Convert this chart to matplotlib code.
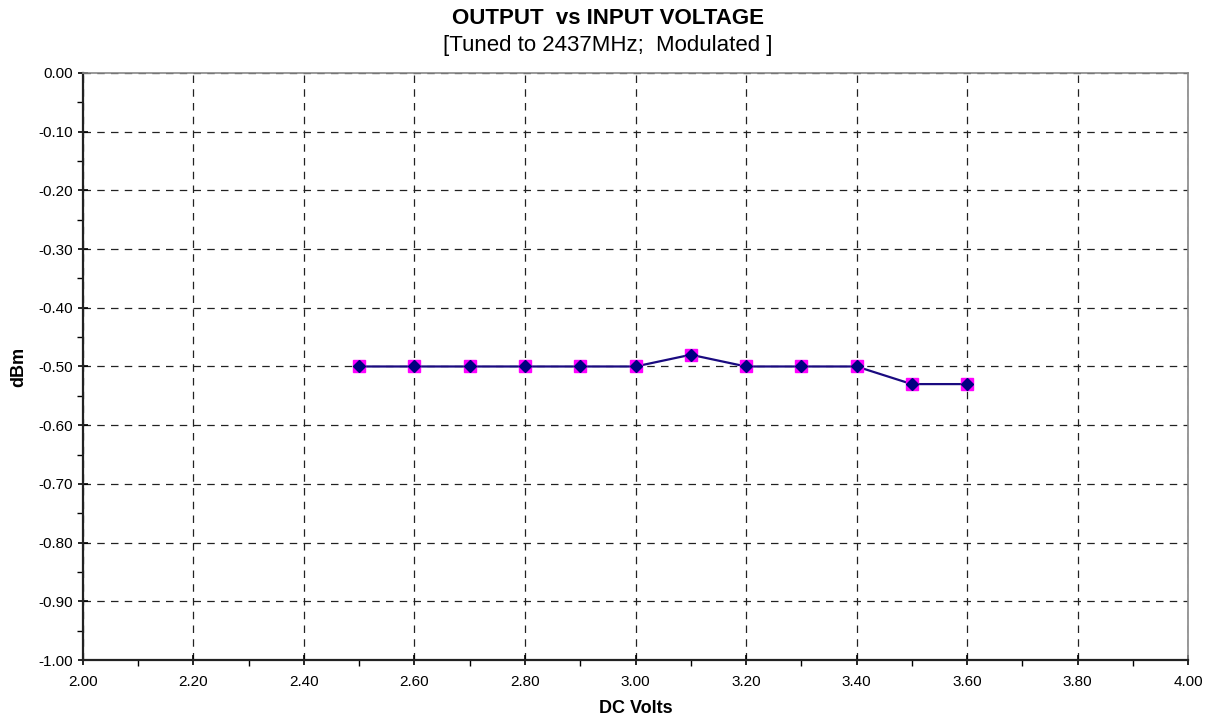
import numpy as np
import matplotlib
matplotlib.use('Agg')
import matplotlib.pyplot as plt
from matplotlib.ticker import MultipleLocator, FormatStrFormatter

plt.rcParams['font.family'] = ['Liberation Sans', 'DejaVu Sans']

volts = [2.5, 2.6, 2.7, 2.8, 2.9, 3.0, 3.1, 3.2, 3.3, 3.4, 3.5, 3.6]
dbm = [-0.50, -0.50, -0.50, -0.50, -0.50, -0.50, -0.48, -0.50, -0.50, -0.50, -0.53, -0.53]

fig = plt.figure(figsize=(12.15, 7.21), dpi=100)
ax = fig.add_axes([0.0683, 0.0846, 0.9095, 0.8142])

ax.plot(volts, dbm, color='#1a0a80', linewidth=1.6, zorder=3)
ax.plot(volts, dbm, linestyle='none', marker='s', markersize=8,
        markerfacecolor='#ff00ff', markeredgecolor='#ff00ff', zorder=4)
ax.plot(volts, dbm, linestyle='none', marker='D', markersize=6.5,
        markerfacecolor='#000080', markeredgecolor='#000080', zorder=5)

ax.set_xlim(2.0, 4.0)
ax.set_ylim(-1.0, 0.0)
ax.xaxis.set_major_locator(MultipleLocator(0.2))
ax.xaxis.set_minor_locator(MultipleLocator(0.1))
ax.yaxis.set_major_locator(MultipleLocator(0.1))
ax.yaxis.set_minor_locator(MultipleLocator(0.05))
ax.xaxis.set_major_formatter(FormatStrFormatter('%.2f'))
ax.yaxis.set_major_formatter(FormatStrFormatter('%.2f'))

ax.grid(True, which='major', color='#222222', linestyle=(0, (6, 5)), linewidth=0.9)
ax.tick_params(which='major', direction='inout', length=7, width=1.2, labelsize=11)
ax.tick_params(which='minor', direction='out', length=4, width=1.0)
ax.tick_params(axis='x', pad=7)

for side in ('top', 'right'):
    ax.spines[side].set_color('#888888')
    ax.spines[side].set_linewidth(1.2)
for side in ('left', 'bottom'):
    ax.spines[side].set_color('#222222')
    ax.spines[side].set_linewidth(1.6)

ax.set_xlabel('DC Volts', fontsize=13, fontweight='bold', labelpad=8)
ax.set_ylabel('dBm', fontsize=13, fontweight='bold', labelpad=8)

fig.text(0.5, 0.975, 'OUTPUT  vs INPUT VOLTAGE', ha='center', va='center',
         fontsize=16, fontweight='bold')
fig.text(0.5, 0.937, '[Tuned to 2437MHz;  Modulated ]', ha='center', va='center',
         fontsize=16)

fig.savefig('out.png', dpi=100)
